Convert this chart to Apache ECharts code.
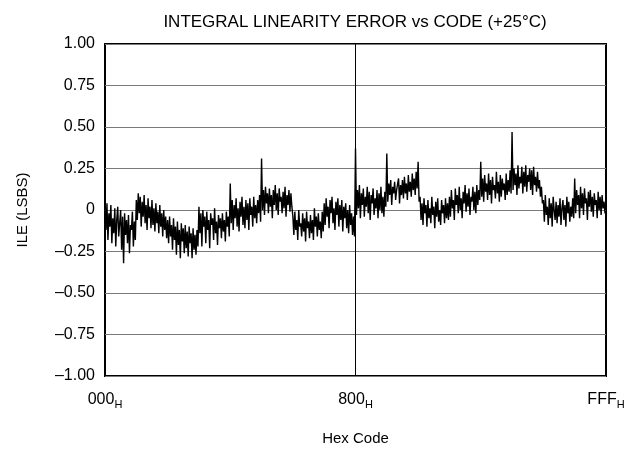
<!DOCTYPE html>
<html>
<head>
<meta charset="utf-8">
<script src="https://cdn.jsdelivr.net/npm/echarts@6/dist/echarts.min.js"></script>
<style>
  html, body { margin: 0; padding: 0; background: #fff; }
  #chart { width: 636px; height: 449px; }
</style>
</head>
<body>
<div id="chart"></div>
<script>
// Integral linearity error (LSBs) of a 12-bit converter, sampled every 8 codes.
// Each block covers 256 codes (one major carry segment).
const seg0  = [0.02,-0.12,0.04,-0.18,-0.02,-0.10,0.03,-0.20,-0.05,-0.14,0.01,-0.22,-0.06,0.02,-0.16,-0.08,0.00,-0.24,-0.04,-0.32,-0.02,-0.15,-0.06,-0.20,-0.03,-0.26,-0.09,-0.12,-0.01,-0.22,-0.07,-0.18];
const seg1  = [0.06,-0.06,0.10,-0.02,0.08,-0.10,0.05,-0.04,0.09,-0.08,0.03,-0.12,0.07,-0.05,0.02,-0.11,0.06,-0.09,0.01,-0.13,0.04,-0.08,-0.01,-0.14,0.03,-0.10,-0.02,-0.16,0.00,-0.12,-0.04,-0.17];
const seg2  = [-0.06,-0.20,-0.04,-0.16,-0.09,-0.24,-0.05,-0.18,-0.10,-0.27,-0.07,-0.21,-0.12,-0.29,-0.08,-0.19,-0.11,-0.26,-0.09,-0.23,-0.13,-0.28,-0.10,-0.20,-0.14,-0.29,-0.11,-0.24,-0.15,-0.27,-0.12,-0.22];
const seg3  = [0.02,-0.14,-0.02,-0.22,0.00,-0.10,-0.04,-0.20,-0.01,-0.12,-0.06,-0.23,-0.02,-0.09,-0.05,-0.18,0.01,-0.14,-0.07,-0.21,-0.03,-0.11,-0.05,-0.17,-0.02,-0.13,-0.06,-0.19,-0.01,-0.10,-0.04,-0.16];
const seg4  = [0.16,-0.08,0.06,-0.12,0.03,-0.05,0.07,-0.10,0.01,-0.13,0.05,-0.04,0.08,-0.09,0.02,-0.11,0.06,-0.06,0.04,-0.12,0.07,-0.03,0.02,-0.10,0.08,-0.05,0.03,-0.08,0.06,-0.02,0.09,-0.07];
const seg5  = [0.31,0.00,0.12,-0.03,0.14,0.04,0.10,-0.02,0.13,0.02,0.09,-0.05,0.12,0.03,0.15,0.00,0.10,-0.03,0.13,0.05,0.08,-0.02,0.11,0.01,0.14,-0.04,0.09,0.03,0.12,-0.01,0.10,0.02];
const seg6  = [-0.04,-0.15,-0.01,-0.12,-0.06,-0.18,0.00,-0.10,-0.08,-0.16,-0.02,-0.13,-0.05,-0.19,-0.01,-0.11,-0.07,-0.17,-0.03,-0.14,-0.06,-0.18,0.01,-0.10,-0.04,-0.16,-0.02,-0.12,-0.07,-0.17,-0.01,-0.13];
const seg7  = [0.04,-0.09,0.07,-0.04,0.02,-0.11,0.06,-0.02,0.08,-0.08,0.01,-0.12,0.05,-0.03,0.07,-0.10,0.03,-0.06,0.06,-0.13,0.02,-0.05,0.04,-0.11,0.00,-0.14,0.03,-0.09,-0.02,-0.15,-0.04,-0.16];
const seg8  = [0.37,-0.03,0.12,0.01,0.15,-0.05,0.10,0.03,0.13,-0.04,0.08,0.02,0.14,-0.02,0.11,-0.06,0.09,0.04,0.13,-0.03,0.07,0.01,0.12,-0.05,0.10,0.00,0.14,-0.02,0.08,-0.04,0.11,0.02];
const seg9  = [0.34,0.05,0.16,0.09,0.18,0.03,0.14,0.10,0.17,0.06,0.12,0.11,0.19,0.04,0.15,0.09,0.18,0.07,0.20,0.10,0.16,0.06,0.21,0.11,0.17,0.08,0.22,0.12,0.19,0.09,0.23,0.13];
const seg10 = [0.29,0.05,0.08,-0.06,0.04,-0.09,0.07,-0.02,0.03,-0.10,0.06,-0.05,0.01,-0.08,0.08,-0.03,0.02,-0.11,0.05,-0.04,0.07,-0.07,0.00,-0.09,0.06,-0.02,0.03,-0.08,0.07,-0.05,0.04,-0.06];
const seg11 = [0.08,-0.04,0.12,0.01,0.06,-0.06,0.13,0.03,0.09,-0.02,0.14,0.00,0.07,-0.05,0.11,0.04,0.15,-0.01,0.10,0.02,0.13,-0.03,0.08,0.05,0.14,0.00,0.11,-0.02,0.15,0.03,0.12,0.06];
const seg12 = [0.29,0.08,0.19,0.05,0.21,0.11,0.16,0.06,0.22,0.09,0.18,0.04,0.20,0.12,0.15,0.07,0.23,0.10,0.17,0.05,0.21,0.08,0.19,0.12,0.16,0.06,0.22,0.09,0.18,0.11,0.24,0.10];
const seg13 = [0.47,0.12,0.25,0.15,0.22,0.09,0.27,0.13,0.20,0.16,0.26,0.10,0.23,0.14,0.27,0.11,0.21,0.17,0.25,0.12,0.24,0.09,0.26,0.15,0.20,0.11,0.23,0.13,0.18,0.08,0.14,0.04];
const seg14 = [0.06,-0.07,0.09,-0.03,0.02,-0.09,0.07,-0.05,0.04,-0.10,0.08,0.00,-0.06,0.05,-0.08,0.03,-0.04,0.07,-0.09,0.01,0.06,-0.06,0.03,-0.10,0.08,-0.02,0.05,-0.07,0.02,-0.04,0.07,-0.05];
const seg15 = [0.19,-0.02,0.12,0.03,0.09,-0.05,0.14,0.01,0.10,-0.03,0.13,0.04,0.07,-0.06,0.11,0.02,0.12,-0.01,0.08,-0.04,0.10,0.03,0.06,-0.05,0.11,0.00,0.08,-0.03,0.09,0.01,0.05,-0.02];

const segments = [seg0, seg1, seg2, seg3, seg4, seg5, seg6, seg7,
                  seg8, seg9, seg10, seg11, seg12, seg13, seg14, seg15];
const codesPerSegment = 256;

// Tick labels
const xTickLabels = { 0: '000', 2048: '800', 4096: 'FFF' };

// Pair each sample with its code
const ilePoints = [];
segments.forEach((seg, s) => {
  const step = codesPerSegment / seg.length;
  seg.forEach((v, j) => ilePoints.push([s * codesPerSegment + j * step, v]));
});

const FONT = 'Liberation Sans, Arial, sans-serif';

const chart = echarts.init(document.getElementById('chart'), null, { renderer: 'canvas' });
chart.setOption({
  animation: false,
  backgroundColor: '#fff',
  textStyle: { fontFamily: FONT },
  title: {
    text: 'INTEGRAL LINEARITY ERROR vs CODE (+25°C)',
    left: 350,
    top: 9,
    textAlign: 'center',
    textStyle: { fontFamily: FONT, fontSize: 17, fontWeight: 'normal', color: '#000' }
  },
  grid: {
    left: 105, right: 30, top: 44, bottom: 73,
    outerBoundsMode: 'none',
    containLabel: false,
    show: true, borderColor: '#000', borderWidth: 2, backgroundColor: 'transparent'
  },
  xAxis: {
    type: 'value',
    min: 0, max: 4096, interval: 2048,
    name: 'Hex Code',
    nameLocation: 'middle',
    nameGap: 55,
    nameTextStyle: { fontFamily: FONT, fontSize: 15, color: '#000' },
    axisLine: { show: false },
    axisTick: { show: false },
    splitLine: { show: false },
    axisLabel: {
      margin: 13,
      formatter: v => '{v|' + xTickLabels[v] + '}{h|H}',
      rich: {
        v: { fontFamily: FONT, fontSize: 16, color: '#000' },
        h: { fontFamily: FONT, fontSize: 11, color: '#000', padding: [10, 0, 0, 0] }
      }
    }
  },
  yAxis: {
    type: 'value',
    min: -1, max: 1, interval: 0.25,
    name: 'ILE (LSBS)',
    nameLocation: 'middle',
    nameGap: 75,
    nameTextStyle: { fontFamily: FONT, fontSize: 15, color: '#000' },
    axisLine: { show: false },
    axisTick: { show: false },
    splitLine: { show: true, lineStyle: { color: '#7a7a7a', width: 1 } },
    axisLabel: {
      margin: 10,
      fontFamily: FONT, fontSize: 16, color: '#000',
      formatter: v => {
        if (Math.abs(v) < 1e-9) return '0';
        return (v < 0 ? '\u2013' : '') + Math.abs(v).toFixed(2);
      }
    }
  },
  series: [{
    type: 'line',
    data: ilePoints,
    showSymbol: false,
    symbol: 'none',
    lineStyle: { color: '#000', width: 1.4 },
    z: 3,
    markLine: {
      silent: true,
      symbol: 'none',
      label: { show: false },
      lineStyle: { color: '#000', width: 1, type: 'solid' },
      data: [{ xAxis: 2048 }]
    }
  }]
});
</script>
</body>
</html>
